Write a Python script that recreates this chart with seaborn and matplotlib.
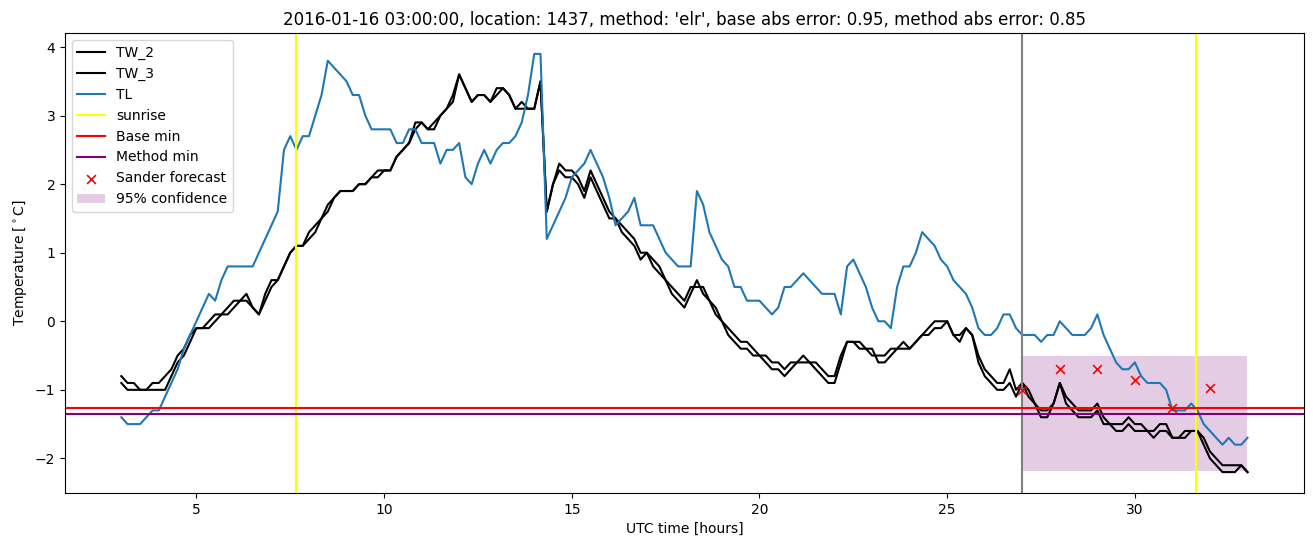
import numpy as np
import pandas as pd
import matplotlib
matplotlib.use("Agg")
import matplotlib.pyplot as plt
import seaborn as sns

# 10-minute samples starting at 03:00 (hours since 2016-01-16 00:00 UTC)
start_hour = 3.0
step_hours = 1.0 / 6.0

tw_2 = [
    -0.8, -0.9, -0.9, -1.0, -1.0, -0.9,
    -0.9, -0.8, -0.7, -0.5, -0.4, -0.2,
    -0.1, -0.1, 0.0, 0.1, 0.1, 0.2,
    0.3, 0.3, 0.4, 0.2, 0.1, 0.4,
    0.6, 0.6, 0.8, 1.0, 1.1, 1.1,
    1.3, 1.4, 1.5, 1.7, 1.8, 1.9,
    1.9, 1.9, 2.0, 2.0, 2.1, 2.2,
    2.2, 2.2, 2.4, 2.5, 2.6, 2.9,
    2.9, 2.8, 2.9, 3.0, 3.1, 3.3,
    3.6, 3.4, 3.2, 3.3, 3.3, 3.2,
    3.4, 3.4, 3.3, 3.1, 3.2, 3.1,
    3.1, 3.5, 1.6, 2.0, 2.3, 2.2,
    2.2, 2.1, 1.9, 2.2, 2.0, 1.8,
    1.6, 1.5, 1.4, 1.3, 1.2, 1.0,
    1.0, 0.9, 0.8, 0.6, 0.5, 0.4,
    0.3, 0.5, 0.5, 0.5, 0.3, 0.2,
    0.0, -0.1, -0.2, -0.3, -0.3, -0.4,
    -0.5, -0.5, -0.6, -0.6, -0.7, -0.6,
    -0.6, -0.5, -0.6, -0.6, -0.7, -0.8,
    -0.8, -0.5, -0.3, -0.3, -0.4, -0.4,
    -0.5, -0.5, -0.5, -0.4, -0.4, -0.3,
    -0.4, -0.3, -0.2, -0.1, 0.0, 0.0,
    0.0, -0.2, -0.3, -0.1, -0.2, -0.5,
    -0.7, -0.8, -0.9, -0.9, -0.7, -1.0,
    -0.9, -1.0, -1.2, -1.3, -1.3, -1.2,
    -0.9, -1.1, -1.2, -1.3, -1.3, -1.3,
    -1.2, -1.4, -1.5, -1.5, -1.5, -1.4,
    -1.5, -1.5, -1.6, -1.6, -1.5, -1.5,
    -1.7, -1.7, -1.7, -1.6, -1.6, -1.7,
    -1.9, -2.0, -2.1, -2.1, -2.1, -2.1,
    -2.2,
]

tw_3 = [
    -0.9, -1.0, -1.0, -1.0, -1.0, -1.0,
    -1.0, -1.0, -0.8, -0.6, -0.5, -0.3,
    -0.1, -0.1, -0.1, 0.0, 0.1, 0.1,
    0.2, 0.3, 0.3, 0.2, 0.1, 0.3,
    0.5, 0.6, 0.8, 1.0, 1.1, 1.1,
    1.2, 1.3, 1.5, 1.6, 1.8, 1.9,
    1.9, 1.9, 2.0, 2.0, 2.1, 2.1,
    2.2, 2.2, 2.4, 2.5, 2.6, 2.8,
    2.9, 2.8, 2.8, 3.0, 3.1, 3.2,
    3.6, 3.4, 3.2, 3.3, 3.3, 3.2,
    3.3, 3.4, 3.3, 3.1, 3.1, 3.1,
    3.1, 3.5, 1.6, 2.0, 2.2, 2.1,
    2.1, 2.0, 1.8, 2.1, 1.9, 1.7,
    1.5, 1.5, 1.3, 1.2, 1.1, 0.9,
    1.0, 0.8, 0.7, 0.6, 0.4, 0.3,
    0.2, 0.4, 0.6, 0.4, 0.3, 0.1,
    0.0, -0.2, -0.3, -0.4, -0.4, -0.5,
    -0.5, -0.6, -0.7, -0.7, -0.8, -0.7,
    -0.6, -0.6, -0.6, -0.7, -0.8, -0.9,
    -0.9, -0.6, -0.3, -0.3, -0.3, -0.4,
    -0.4, -0.6, -0.6, -0.5, -0.4, -0.4,
    -0.4, -0.3, -0.2, -0.2, -0.1, -0.1,
    0.0, -0.2, -0.2, -0.1, -0.2, -0.6,
    -0.8, -0.9, -1.0, -1.0, -0.9, -1.1,
    -0.9, -1.1, -1.2, -1.4, -1.4, -1.2,
    -0.9, -1.2, -1.3, -1.4, -1.4, -1.4,
    -1.3, -1.5, -1.5, -1.6, -1.6, -1.5,
    -1.6, -1.6, -1.6, -1.7, -1.6, -1.6,
    -1.7, -1.7, -1.6, -1.6, -1.6, -1.8,
    -2.0, -2.1, -2.2, -2.2, -2.2, -2.1,
    -2.2,
]

tl = [
    -1.4, -1.5, -1.5, -1.5, -1.4, -1.3,
    -1.3, -1.1, -0.9, -0.7, -0.4, -0.2,
    0.0, 0.2, 0.4, 0.3, 0.6, 0.8,
    0.8, 0.8, 0.8, 0.8, 1.0, 1.2,
    1.4, 1.6, 2.5, 2.7, 2.5, 2.7,
    2.7, 3.0, 3.3, 3.8, 3.7, 3.6,
    3.5, 3.3, 3.3, 3.0, 2.8, 2.8,
    2.8, 2.8, 2.6, 2.6, 2.8, 2.8,
    2.6, 2.6, 2.6, 2.3, 2.5, 2.5,
    2.6, 2.1, 2.0, 2.3, 2.5, 2.3,
    2.5, 2.6, 2.6, 2.7, 2.9, 3.3,
    3.9, 3.9, 1.2, 1.4, 1.6, 1.8,
    2.1, 2.2, 2.3, 2.5, 2.3, 2.1,
    1.8, 1.4, 1.5, 1.6, 1.8, 1.4,
    1.4, 1.4, 1.2, 1.0, 0.9, 0.8,
    0.8, 0.8, 1.9, 1.7, 1.3, 1.1,
    0.9, 0.8, 0.5, 0.5, 0.3, 0.3,
    0.3, 0.2, 0.1, 0.2, 0.5, 0.5,
    0.6, 0.7, 0.6, 0.5, 0.4, 0.4,
    0.4, 0.1, 0.8, 0.9, 0.7, 0.5,
    0.2, 0.0, 0.0, -0.1, 0.5, 0.8,
    0.8, 1.0, 1.3, 1.2, 1.1, 0.9,
    0.8, 0.6, 0.5, 0.4, 0.2, -0.1,
    -0.2, -0.2, -0.1, 0.1, 0.1, -0.1,
    -0.2, -0.2, -0.2, -0.3, -0.2, -0.2,
    0.0, -0.1, -0.2, -0.2, -0.2, -0.1,
    0.1, -0.2, -0.4, -0.6, -0.7, -0.7,
    -0.6, -0.8, -0.9, -0.9, -0.9, -1.0,
    -1.3, -1.3, -1.3, -1.2, -1.3, -1.5,
    -1.6, -1.7, -1.8, -1.7, -1.8, -1.8,
    -1.7,
]

sunrise_hours = [7.65, 31.63]
forecast_time = 27.0
base_min = -1.26
method_min = -1.35

sander_hours = [27, 28, 29, 30, 31, 32]
sander_values = [-1.0, -0.7, -0.7, -0.86, -1.27, -0.97]

conf_start, conf_end = 27.0, 33.0
conf_low, conf_high = -2.19, -0.51

title = ("2016-01-16 03:00:00, location: 1437, method: 'elr', "
         "base abs error: 0.95, method abs error: 0.85")

hours = start_hour + np.arange(len(tl)) * step_hours
df = pd.DataFrame({"hours": hours, "TW_2": tw_2, "TW_3": tw_3, "TL": tl})

fig = plt.figure(figsize=(13.13, 5.47), dpi=100)
ax = fig.add_subplot(111)
fig.subplots_adjust(left=0.0495, right=0.993, top=0.9397, bottom=0.0987)

sns.lineplot(data=df, x="hours", y="TW_2", color="black", label="TW_2", ax=ax, linewidth=1.5)
sns.lineplot(data=df, x="hours", y="TW_3", color="black", label="TW_3", ax=ax, linewidth=1.5)
sns.lineplot(data=df, x="hours", y="TL", color="#1f77b4", label="TL", ax=ax, linewidth=1.5)

for i, s in enumerate(sunrise_hours):
    ax.axvline(s, color="yellow", label="sunrise" if i == 0 else None)
ax.axvline(forecast_time, color="gray")
ax.axhline(base_min, color="red", label="Base min")
ax.axhline(method_min, color="purple", label="Method min")

sns.scatterplot(x=sander_hours, y=sander_values, marker="x", color="red",
                s=40, linewidth=1.2, label="Sander forecast", ax=ax, zorder=5)

ax.fill_between([conf_start, conf_end], [conf_low, conf_low], [conf_high, conf_high],
                color="purple", alpha=0.2, linewidth=0, label="95% confidence")

ax.set_xlim(1.5, 34.5)
ax.set_ylim(-2.505, 4.205)
ax.set_xticks([5, 10, 15, 20, 25, 30])
ax.set_title(title)
ax.set_xlabel("UTC time [hours]")
ax.set_ylabel(r"Temperature [$^\circ$C]")
ax.legend(loc="upper left")

fig.savefig("out.png", dpi=100)
